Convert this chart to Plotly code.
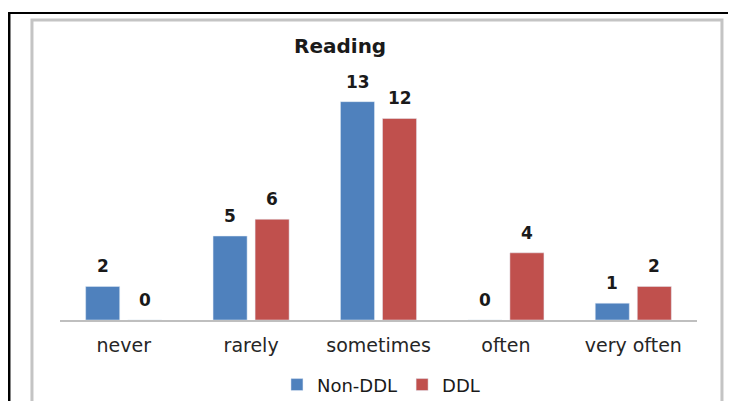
import plotly.graph_objects as go

# data
categories = ['never', 'rarely', 'sometimes', 'often', 'very often']
non_ddl = [2, 5, 13, 0, 1]
ddl = [0, 6, 12, 4, 2]

BLUE = '#4F81BD'
RED = '#C0504D'
FONT = 'DejaVu Sans'

fig = go.Figure()
fig.add_trace(go.Bar(x=categories, y=non_ddl, name='Non-DDL', marker_color=BLUE))
fig.add_trace(go.Bar(x=categories, y=ddl, name='DDL', marker_color=RED))

# value labels above the bars
annotations = []
for vals, shift in [(non_ddl, -21), (ddl, 21)]:
    for c, v in zip(categories, vals):
        annotations.append(dict(x=c, y=v, text=str(v), showarrow=False,
                                xshift=shift, yshift=20, yanchor='middle',
                                font=dict(family=FONT, size=17, color='#1a1a1a', weight='bold')))
annotations.append(dict(x=0.44, y=1.054, xref='paper', yref='paper', text='<b>Reading</b>',
                        showarrow=False, xanchor='center', yanchor='middle',
                        font=dict(family=FONT, size=20, color='#1a1a1a')))

# frame lines: black page border and grey chart-area border
shapes = [
    dict(type='line', xref='paper', yref='paper', x0=-0.0816, x1=1.06, y0=1.1808, y1=1.1808,
         line=dict(color='black', width=2)),
    dict(type='line', xref='paper', yref='paper', x0=-0.0801, x1=-0.0801, y0=1.1808, y1=-0.4,
         line=dict(color='black', width=3)),
    dict(type='line', xref='paper', yref='paper', x0=1.0487, x1=1.06, y0=1.1808, y1=1.1808,
         line=dict(color='black', width=4)),
    dict(type='rect', xref='paper', yref='paper', x0=-0.044, x1=1.0392, y0=-0.4, y1=1.1538,
         line=dict(color='#C4C4C4', width=3)),
]

# page body has an 8px margin, keep the figure inside the window
fig.update_layout(
    width=720, height=393,
    margin=dict(l=52, r=31, t=52, b=81, autoexpand=False),
    paper_bgcolor='white', plot_bgcolor='white',
    barmode='group', bargap=0.34, bargroupgap=0.19,
    showlegend=True,
    legend=dict(orientation='h', xref='container', yref='container',
                x=0.518, xanchor='center', y=0.041, yanchor='middle',
                font=dict(family=FONT, size=18, color='#1a1a1a')),
    annotations=annotations, shapes=shapes,
    font=dict(family=FONT),
)
fig.update_xaxes(showline=True, linecolor='#BFBFBF', linewidth=2, ticks='', automargin=False,
                 ticklabelstandoff=7, tickfont=dict(family=FONT, size=19, color='#262626'))
fig.update_yaxes(visible=False, range=[0, 15.48], showgrid=False, automargin=False)

fig.write_html('out.html')
